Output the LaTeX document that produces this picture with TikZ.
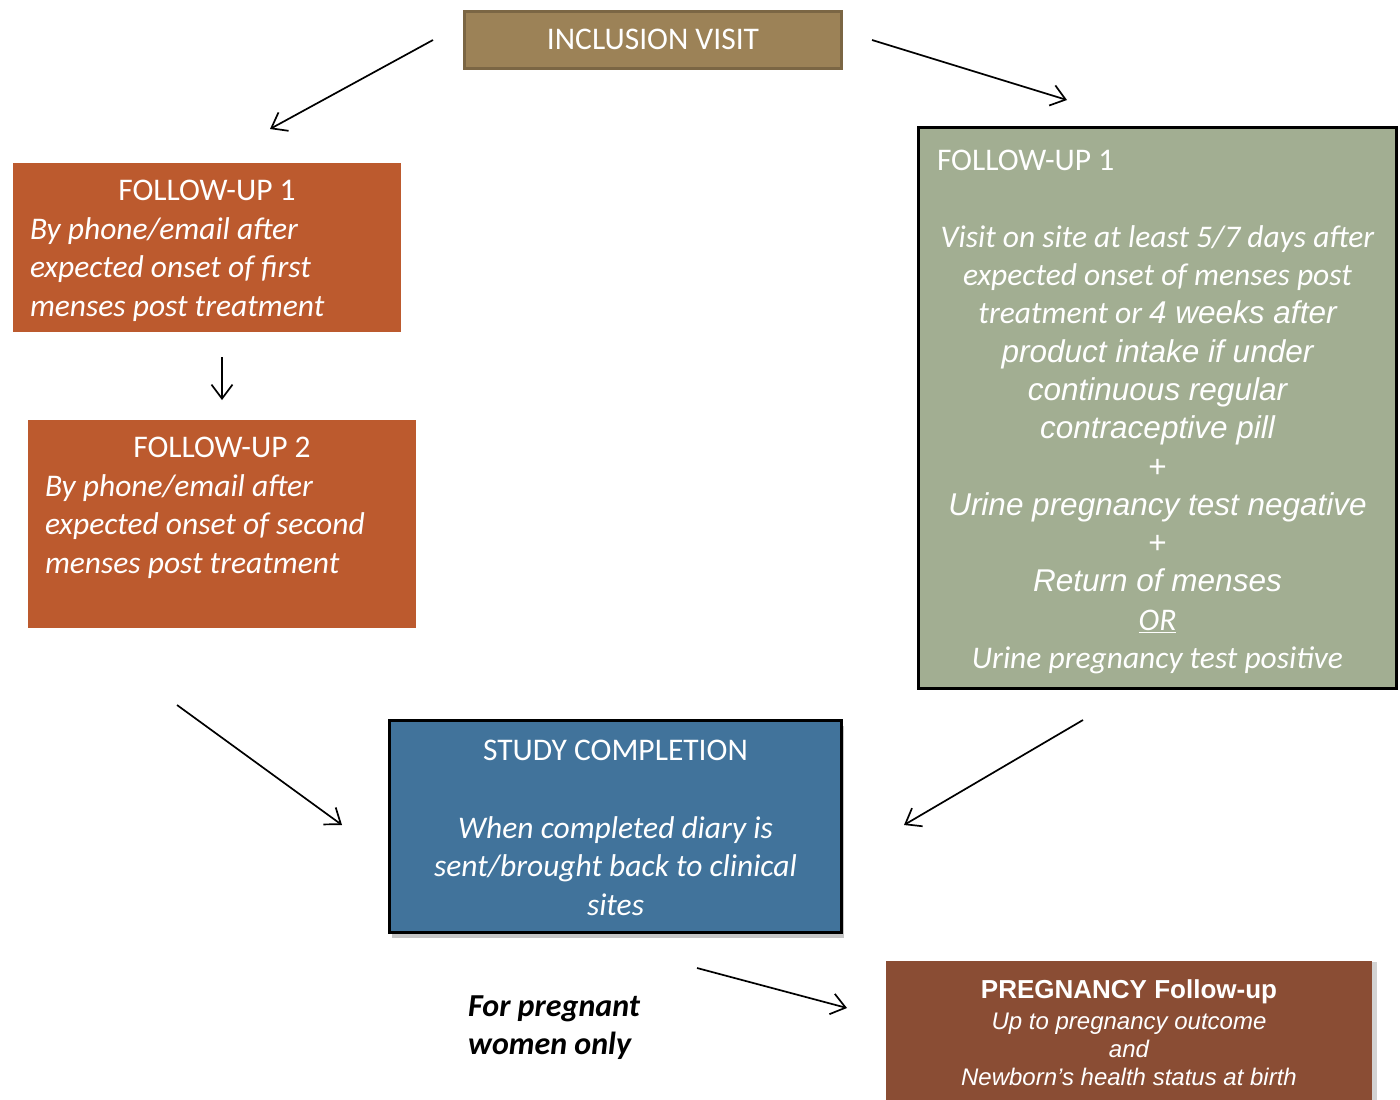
\documentclass[tikz,border=0pt]{standalone}
\usepackage{fontspec}
\setmainfont{Carlito}
\newfontfamily\arialf{Liberation Sans}
\usetikzlibrary{arrows.meta,shadows}
\definecolor{incfill}{HTML}{9C8257}
\definecolor{incline}{HTML}{7B6644}
\definecolor{fuorange}{HTML}{BC5A2E}
\definecolor{fugreen}{HTML}{A2AE92}
\definecolor{scblue}{HTML}{41739B}
\definecolor{pgbrown}{HTML}{8A4D34}
\newcommand\boxtext[4]{\parbox[c][#2][t]{#1}{\vspace*{#3}#4}}
\begin{document}
\begin{tikzpicture}[x=1pt,y=-1pt,
  box/.style={rectangle, inner ysep=0pt, text=white, font=\fontsize{31.5}{38.7}\selectfont},
  conn/.style={line width=1.7pt, -{Straight Barb[length=14pt,width=21pt]}}]
\useasboundingbox (0,0) rectangle (1400,1100);

% boxes
\node[box, fill=incfill, draw=incline, line width=3pt, minimum width=377pt, minimum height=57pt] (inc) at (653,39.5) {INCLUSION VISIT};

\node[box, fill=fuorange, inner xsep=17pt] (fua) at (207,247.5)
  {\boxtext{354pt}{169pt}{17pt}{{\centering FOLLOW-UP 1\par}{\raggedright\itshape By phone/email after\\ expected onset of first\\ menses post treatment\par}}};

\node[box, fill=fuorange, inner xsep=17pt] (fub) at (222,524)
  {\boxtext{354pt}{208pt}{17pt}{{\centering FOLLOW-UP 2\par}{\raggedright\itshape By phone/email after\\ expected onset of second\\ menses post treatment\par}}};

\node[box, fill=fugreen, draw=black, line width=3pt, inner xsep=18.5pt,
  font=\fontsize{31.5}{38.3}\selectfont] (fug) at (1157.5,408)
  {\boxtext{441pt}{561pt}{22.5pt}{{\raggedright FOLLOW-UP 1\par}\vspace{38.5pt}%
   {\centering\itshape Visit on site at least 5/7 days after\\
    expected onset of menses post\\
    treatment or {\arialf 4 weeks after}\\
    {\arialf product intake if under}\\
    {\arialf continuous regular}\\
    {\arialf contraceptive pill}\\
    {\arialf\upshape +}\\
    {\arialf Urine pregnancy test negative}\\
    {\arialf\upshape +}\\
    {\arialf Return of menses}\\
    \underline{OR}\\
    Urine pregnancy test positive\par}}};

\node[box, fill=scblue, draw=black, line width=3pt, inner xsep=10pt,
  drop shadow={shadow xshift=2pt, shadow yshift=-5pt, opacity=0.45}] (sc) at (615.5,826.5)
  {\boxtext{432pt}{212pt}{20pt}{\centering STUDY COMPLETION\par\vspace{38.5pt}%
   {\itshape When completed diary is\\ sent/brought back to clinical\\ sites\par}}};

\node[box, fill=pgbrown, inner xsep=10pt,
  drop shadow={shadow xshift=5pt, shadow yshift=-1pt, opacity=0.35}] (pg) at (1129,1030.5)
  {\boxtext{466pt}{139pt}{18.5pt}{\centering
   {\arialf\bfseries\fontsize{26}{31}\selectfont PREGNANCY Follow-up\par}\vspace{3pt}%
   {\arialf\itshape\fontsize{24}{28}\selectfont Up to pregnancy outcome\\ and\\ Newborn’s health status at birth\par}}};

\node[anchor=north west, inner sep=0pt, align=left,
  font=\fontsize{32}{38}\selectfont\bfseries\itshape] (fpw) at (468,996) {For pregnant\\ women only};

% connectors
\coordinate (a1s) at (433,40);   \coordinate (a1e) at (270,129);
\coordinate (a2s) at (872,40);   \coordinate (a2e) at (1067,100);
\coordinate (a3s) at (222,357);  \coordinate (a3e) at (222,400);
\coordinate (a4s) at (177,705);  \coordinate (a4e) at (342,825);
\coordinate (a5s) at (1083,720); \coordinate (a5e) at (904,825);
\coordinate (a6s) at (697,968);  \coordinate (a6e) at (847,1008);
\draw[conn] (a1s) -- (a1e);
\draw[conn] (a2s) -- (a2e);
\draw[conn] (a3s) -- (a3e);
\draw[conn] (a4s) -- (a4e);
\draw[conn] (a5s) -- (a5e);
\draw[conn] (a6s) -- (a6e);
\end{tikzpicture}
\end{document}
